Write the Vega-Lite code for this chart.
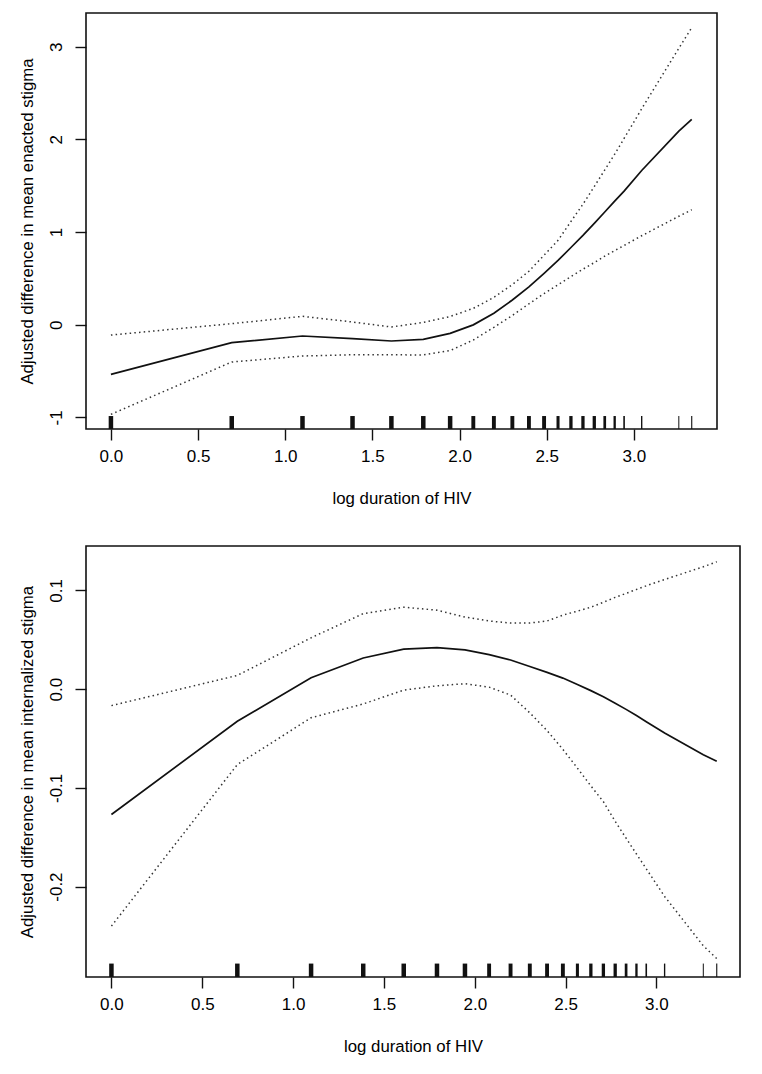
{
  "$schema": "https://vega.github.io/schema/vega-lite/v6.json",
  "description": "GAM smooths of log duration of HIV on enacted and internalized stigma, with pointwise bands and rug.",
  "padding": {"top": 12, "left": 18, "right": 5, "bottom": 5},
  "background": "white",
  "config": {
    "font": "Liberation Sans",
    "view": {"stroke": "#111", "strokeWidth": 1.6},
    "axis": {
      "domain": false,
      "grid": false,
      "ticks": true,
      "tickSize": 11,
      "tickColor": "#111",
      "tickWidth": 1.4,
      "labelFont": "Liberation Sans",
      "labelFontSize": 17,
      "labelColor": "#000",
      "titleFont": "Liberation Sans",
      "titleFontSize": 16.8,
      "titleFontWeight": "normal",
      "titleColor": "#000"
    },
    "axisX": {"labelPadding": 8, "titlePadding": 26},
    "axisY": {"labelAngle": -90, "labelAlign": "center", "labelBaseline": "bottom", "labelPadding": 10, "titlePadding": 11}
  },
  "data": {
    "values": [
      {"x": 0.000, "n": 30, "en_fit": -0.536, "en_lo": -0.968, "en_hi": -0.112, "in_fit": -0.127, "in_lo": -0.240, "in_hi": -0.0167},
      {"x": 0.693, "n": 30, "en_fit": -0.194, "en_lo": -0.403, "en_hi": 0.011, "in_fit": -0.0325, "in_lo": -0.0764, "in_hi": 0.0139},
      {"x": 1.099, "n": 30, "en_fit": -0.122, "en_lo": -0.338, "en_hi": 0.090, "in_fit": 0.0115, "in_lo": -0.029, "in_hi": 0.052},
      {"x": 1.386, "n": 30, "en_fit": -0.150, "en_lo": -0.325, "en_hi": 0.029, "in_fit": 0.0315, "in_lo": -0.015, "in_hi": 0.0765},
      {"x": 1.609, "n": 30, "en_fit": -0.176, "en_lo": -0.325, "en_hi": -0.025, "in_fit": 0.0405, "in_lo": -0.001, "in_hi": 0.083},
      {"x": 1.792, "n": 30, "en_fit": -0.158, "en_lo": -0.327, "en_hi": 0.024, "in_fit": 0.042, "in_lo": 0.0034, "in_hi": 0.080},
      {"x": 1.946, "n": 30, "en_fit": -0.094, "en_lo": -0.280, "en_hi": 0.088, "in_fit": 0.0398, "in_lo": 0.0055, "in_hi": 0.073},
      {"x": 2.079, "n": 25, "en_fit": -0.002, "en_lo": -0.165, "en_hi": 0.176, "in_fit": 0.035, "in_lo": 0.002, "in_hi": 0.069},
      {"x": 2.197, "n": 25, "en_fit": 0.123, "en_lo": -0.029, "en_hi": 0.295, "in_fit": 0.0295, "in_lo": -0.006, "in_hi": 0.067},
      {"x": 2.303, "n": 25, "en_fit": 0.266, "en_lo": 0.100, "en_hi": 0.433, "in_fit": 0.023, "in_lo": -0.024, "in_hi": 0.067},
      {"x": 2.398, "n": 25, "en_fit": 0.408, "en_lo": 0.225, "en_hi": 0.577, "in_fit": 0.017, "in_lo": -0.042, "in_hi": 0.069},
      {"x": 2.485, "n": 25, "en_fit": 0.554, "en_lo": 0.336, "en_hi": 0.750, "in_fit": 0.0112, "in_lo": -0.061, "in_hi": 0.075},
      {"x": 2.565, "n": 18, "en_fit": 0.693, "en_lo": 0.430, "en_hi": 0.910, "in_fit": 0.0048, "in_lo": -0.080, "in_hi": 0.079},
      {"x": 2.639, "n": 20, "en_fit": 0.833, "en_lo": 0.520, "en_hi": 1.114, "in_fit": -0.0015, "in_lo": -0.098, "in_hi": 0.083},
      {"x": 2.708, "n": 20, "en_fit": 0.964, "en_lo": 0.599, "en_hi": 1.300, "in_fit": -0.0078, "in_lo": -0.114, "in_hi": 0.088},
      {"x": 2.773, "n": 20, "en_fit": 1.093, "en_lo": 0.670, "en_hi": 1.491, "in_fit": -0.0142, "in_lo": -0.134, "in_hi": 0.093},
      {"x": 2.833, "n": 15, "en_fit": 1.216, "en_lo": 0.740, "en_hi": 1.670, "in_fit": -0.0205, "in_lo": -0.151, "in_hi": 0.097},
      {"x": 2.890, "n": 12, "en_fit": 1.333, "en_lo": 0.800, "en_hi": 1.840, "in_fit": -0.0268, "in_lo": -0.167, "in_hi": 0.101},
      {"x": 2.944, "n": 6, "en_fit": 1.442, "en_lo": 0.855, "en_hi": 2.010, "in_fit": -0.033, "in_lo": -0.182, "in_hi": 0.1047},
      {"x": 3.045, "n": 4, "en_fit": 1.664, "en_lo": 0.960, "en_hi": 2.330, "in_fit": -0.0445, "in_lo": -0.210, "in_hi": 0.111},
      {"x": 3.258, "n": 1, "en_fit": 2.088, "en_lo": 1.170, "en_hi": 2.983, "in_fit": -0.0665, "in_lo": -0.260, "in_hi": 0.124},
      {"x": 3.332, "n": 2, "en_fit": 2.216, "en_lo": 1.240, "en_hi": 3.205, "in_fit": -0.073, "in_lo": -0.273, "in_hi": 0.129}
    ]
  },
  "spacing": 37,
  "vconcat": [
    {
      "width": 631,
      "height": 416,
      "encoding": {
        "x": {
          "field": "x",
          "type": "quantitative",
          "title": "log duration of HIV",
          "scale": {"domain": [-0.143, 3.477], "nice": false, "zero": false},
          "axis": {"values": [0, 0.5, 1, 1.5, 2, 2.5, 3], "format": ".1f"}
        }
      },
      "layer": [
        {
          "mark": {"type": "rule", "color": "#111"},
          "encoding": {
            "y": {"datum": -1.126, "type": "quantitative"},
            "y2": {"datum": -0.986},
            "strokeWidth": {"field": "n", "type": "quantitative", "scale": {"domain": [1, 30], "range": [1, 4.5]}, "legend": null}
          }
        },
        {
          "mark": {"type": "line", "color": "#111", "strokeWidth": 1.7},
          "encoding": {
            "y": {
              "field": "en_fit",
              "type": "quantitative",
              "title": "Adjusted difference in mean enacted stigma",
              "scale": {"domain": [-1.126, 3.364], "nice": false, "zero": false},
              "axis": {"values": [-1, 0, 1, 2, 3], "labelExpr": "replace(format(datum.value, 'd'), '\u2212', '-')"}
            }
          }
        },
        {
          "mark": {"type": "line", "color": "#333", "strokeWidth": 1.5, "strokeDash": [1.5, 3.2]},
          "encoding": {"y": {"field": "en_hi", "type": "quantitative"}}
        },
        {
          "mark": {"type": "line", "color": "#333", "strokeWidth": 1.5, "strokeDash": [1.5, 3.2]},
          "encoding": {"y": {"field": "en_lo", "type": "quantitative"}}
        }
      ]
    },
    {
      "width": 654,
      "height": 431,
      "encoding": {
        "x": {
          "field": "x",
          "type": "quantitative",
          "title": "log duration of HIV",
          "scale": {"domain": [-0.14, 3.46], "nice": false, "zero": false},
          "axis": {"values": [0, 0.5, 1, 1.5, 2, 2.5, 3], "format": ".1f"}
        }
      },
      "layer": [
        {
          "mark": {"type": "rule", "color": "#111"},
          "encoding": {
            "y": {"datum": -0.2916, "type": "quantitative"},
            "y2": {"datum": -0.278},
            "strokeWidth": {"field": "n", "type": "quantitative", "scale": {"domain": [1, 30], "range": [1, 4.5]}, "legend": null}
          }
        },
        {
          "mark": {"type": "line", "color": "#111", "strokeWidth": 1.7},
          "encoding": {
            "y": {
              "field": "in_fit",
              "type": "quantitative",
              "title": "Adjusted difference in mean internalized stigma",
              "scale": {"domain": [-0.2916, 0.145], "nice": false, "zero": false},
              "axis": {"values": [-0.2, -0.1, 0, 0.1], "labelExpr": "replace(format(datum.value, '.1f'), '\u2212', '-')"}
            }
          }
        },
        {
          "mark": {"type": "line", "color": "#333", "strokeWidth": 1.5, "strokeDash": [1.5, 3.2]},
          "encoding": {"y": {"field": "in_hi", "type": "quantitative"}}
        },
        {
          "mark": {"type": "line", "color": "#333", "strokeWidth": 1.5, "strokeDash": [1.5, 3.2]},
          "encoding": {"y": {"field": "in_lo", "type": "quantitative"}}
        }
      ]
    }
  ]
}
